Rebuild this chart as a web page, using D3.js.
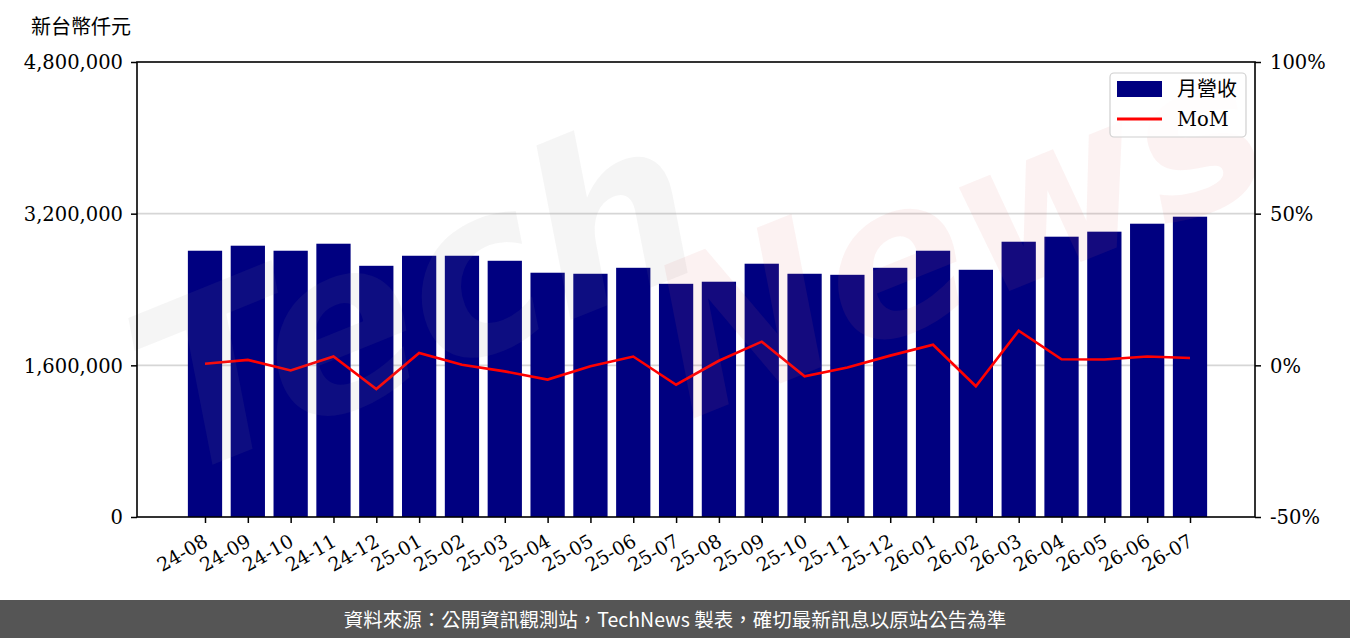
<!DOCTYPE html>
<html>
<head>
<meta charset="utf-8">
<script src="https://cdn.jsdelivr.net/npm/d3@7/dist/d3.min.js"></script>
<style>
  body { margin: 0; background: #fff; }
  svg { display: block; }
  .serif { font-family: "DejaVu Serif", "Liberation Serif", "Noto Sans CJK TC", serif; }
</style>
</head>
<body>
<div id="chart"></div>
<script>
var w = 1350;
var h = 638;

// data
var months = ["24-08","24-09","24-10","24-11","24-12","25-01","25-02","25-03","25-04","25-05","25-06","25-07",
              "25-08","25-09","25-10","25-11","25-12","26-01","26-02","26-03","26-04","26-05","26-06","26-07"];
var revenue = [2809000,2862000,2809000,2883000,2650000,2756000,2756000,2703000,2577000,2566000,2629000,2460000,
               2482000,2672000,2566000,2555000,2629000,2809000,2608000,2904000,2957000,3010000,3094000,3168000];
var mom = [0.5,1.8,-1.7,2.9,-7.8,4.1,0.2,-2.0,-4.7,-0.3,2.9,-6.4,
           1.5,7.8,-3.6,-0.7,3.2,6.8,-6.9,11.4,2.0,1.9,2.9,2.4];
var leftTicks = [0,1600000,3200000,4800000];
var rightTicks = [-50,0,50,100];

var padL = 137, padR = 1255, padT = 62, padB = 517;

var svg = d3.select("#chart").append("svg")
  .attr("width", w).attr("height", h);

var x = d3.scaleLinear().domain([0, months.length - 1]).range([205, 1190]);
var step = x(1) - x(0);
var barW = step * 0.8;
var y = d3.scaleLinear().domain([0, 4800000]).range([padB, padT]);
var y2 = d3.scaleLinear().domain([-50, 100]).range([padB, padT]);

// title
svg.append("text").attr("class","serif")
  .attr("x", 31).attr("y", 34)
  .style("font-size","20px").text("新台幣仟元");

// grid
svg.selectAll("line.grid").data([1600000,3200000]).enter().append("line")
  .attr("x1", padL).attr("x2", padR)
  .attr("y1", function(d){return y(d);}).attr("y2", function(d){return y(d);})
  .style("stroke","#d6d6d6").style("stroke-width",1.6);

// bars
svg.selectAll("rect.bar").data(revenue).enter().append("rect")
  .attr("x", function(d,i){return x(i) - barW/2;})
  .attr("y", function(d){return y(d);})
  .attr("width", barW)
  .attr("height", function(d){return padB - y(d);})
  .attr("fill","#000080");

// MoM line
var line = d3.line().x(function(d,i){return x(i);}).y(function(d){return y2(d);});
svg.append("path").datum(mom)
  .attr("d", line)
  .attr("fill","none").attr("stroke","#ff0000")
  .attr("stroke-width",2.6).attr("stroke-linejoin","miter");

// watermark
var wm = svg.append("g").attr("pointer-events","none")
  .style("font-family","DejaVu Sans").style("font-style","italic").style("font-weight","bold");
wm.append("text").attr("transform","translate(175,480) rotate(-22)")
  .style("font-size","230px").attr("fill","#909090").attr("fill-opacity",0.09).text("Tech");
wm.append("text").attr("transform","translate(690,420) rotate(-22)")
  .style("font-size","210px").attr("fill","#e06a6a").attr("fill-opacity",0.09).text("News");

// axes
var yAxisL = d3.axisLeft(y).tickValues(leftTicks).tickSize(6).tickPadding(8)
  .tickFormat(d3.format(","));
var gL = svg.append("g").attr("transform","translate("+padL+",0)").call(yAxisL);
var yAxisR = d3.axisRight(y2).tickValues(rightTicks).tickSize(6).tickPadding(9)
  .tickFormat(function(d){return d + "%";});
var gR = svg.append("g").attr("transform","translate("+padR+",0)").call(yAxisR);
var xAxis = d3.axisBottom(x).tickValues(d3.range(months.length)).tickSize(6).tickPadding(4)
  .tickFormat(function(i){return months[i];});
var gX = svg.append("g").attr("transform","translate(0,"+padB+")").call(xAxis);
gX.select(".domain").remove();
gL.select(".domain").remove();
gR.select(".domain").remove();

[gL,gR,gX].forEach(function(g){
  g.selectAll("text").attr("class","serif").style("font-size","19.5px").attr("fill","#000");
  g.selectAll(".tick line").style("stroke","#000").style("stroke-width",1.5);
});
gL.selectAll("text").attr("dy","0.35em");
gR.selectAll("text").attr("dy","0.35em");
gX.selectAll("text")
  .style("text-anchor","end")
  .style("font-size","19px")
  .attr("x",0).attr("y",0)
  .attr("dy","0.72em")
  .attr("transform", "translate(-3,16) rotate(-30)");

// frame
svg.append("rect").attr("x",padL).attr("y",padT)
  .attr("width",padR-padL).attr("height",padB-padT)
  .attr("fill","none").attr("stroke","#000").attr("stroke-width",1.6);

// legend
var lg = svg.append("g");
lg.append("rect").attr("x",1110).attr("y",73).attr("width",136).attr("height",64)
  .attr("rx",4).attr("fill","#fff").attr("fill-opacity",0.85)
  .attr("stroke","#d0d0d0").attr("stroke-width",1.2);
lg.append("rect").attr("x",1117).attr("y",81).attr("width",45).attr("height",16).attr("fill","#000080");
lg.append("line").attr("x1",1117).attr("x2",1162).attr("y1",119).attr("y2",119)
  .attr("stroke","#ff0000").attr("stroke-width",3);
lg.append("text").attr("class","serif").attr("x",1177).attr("y",96)
  .style("font-size","20px").text("月營收");
lg.append("text").attr("class","serif").attr("x",1177).attr("y",126)
  .style("font-size","19.5px").text("MoM");

// footer
svg.append("rect").attr("x",0).attr("y",600).attr("width",w).attr("height",38).attr("fill","#555555");
svg.append("text").attr("x",w/2).attr("y",627).attr("text-anchor","middle")
  .style("font-family","'Noto Sans CJK TC', 'Noto Sans', sans-serif").style("font-size","19.5px")
  .attr("fill","#fff").text("資料來源：公開資訊觀測站，TechNews 製表，確切最新訊息以原站公告為準");
</script>
</body>
</html>
